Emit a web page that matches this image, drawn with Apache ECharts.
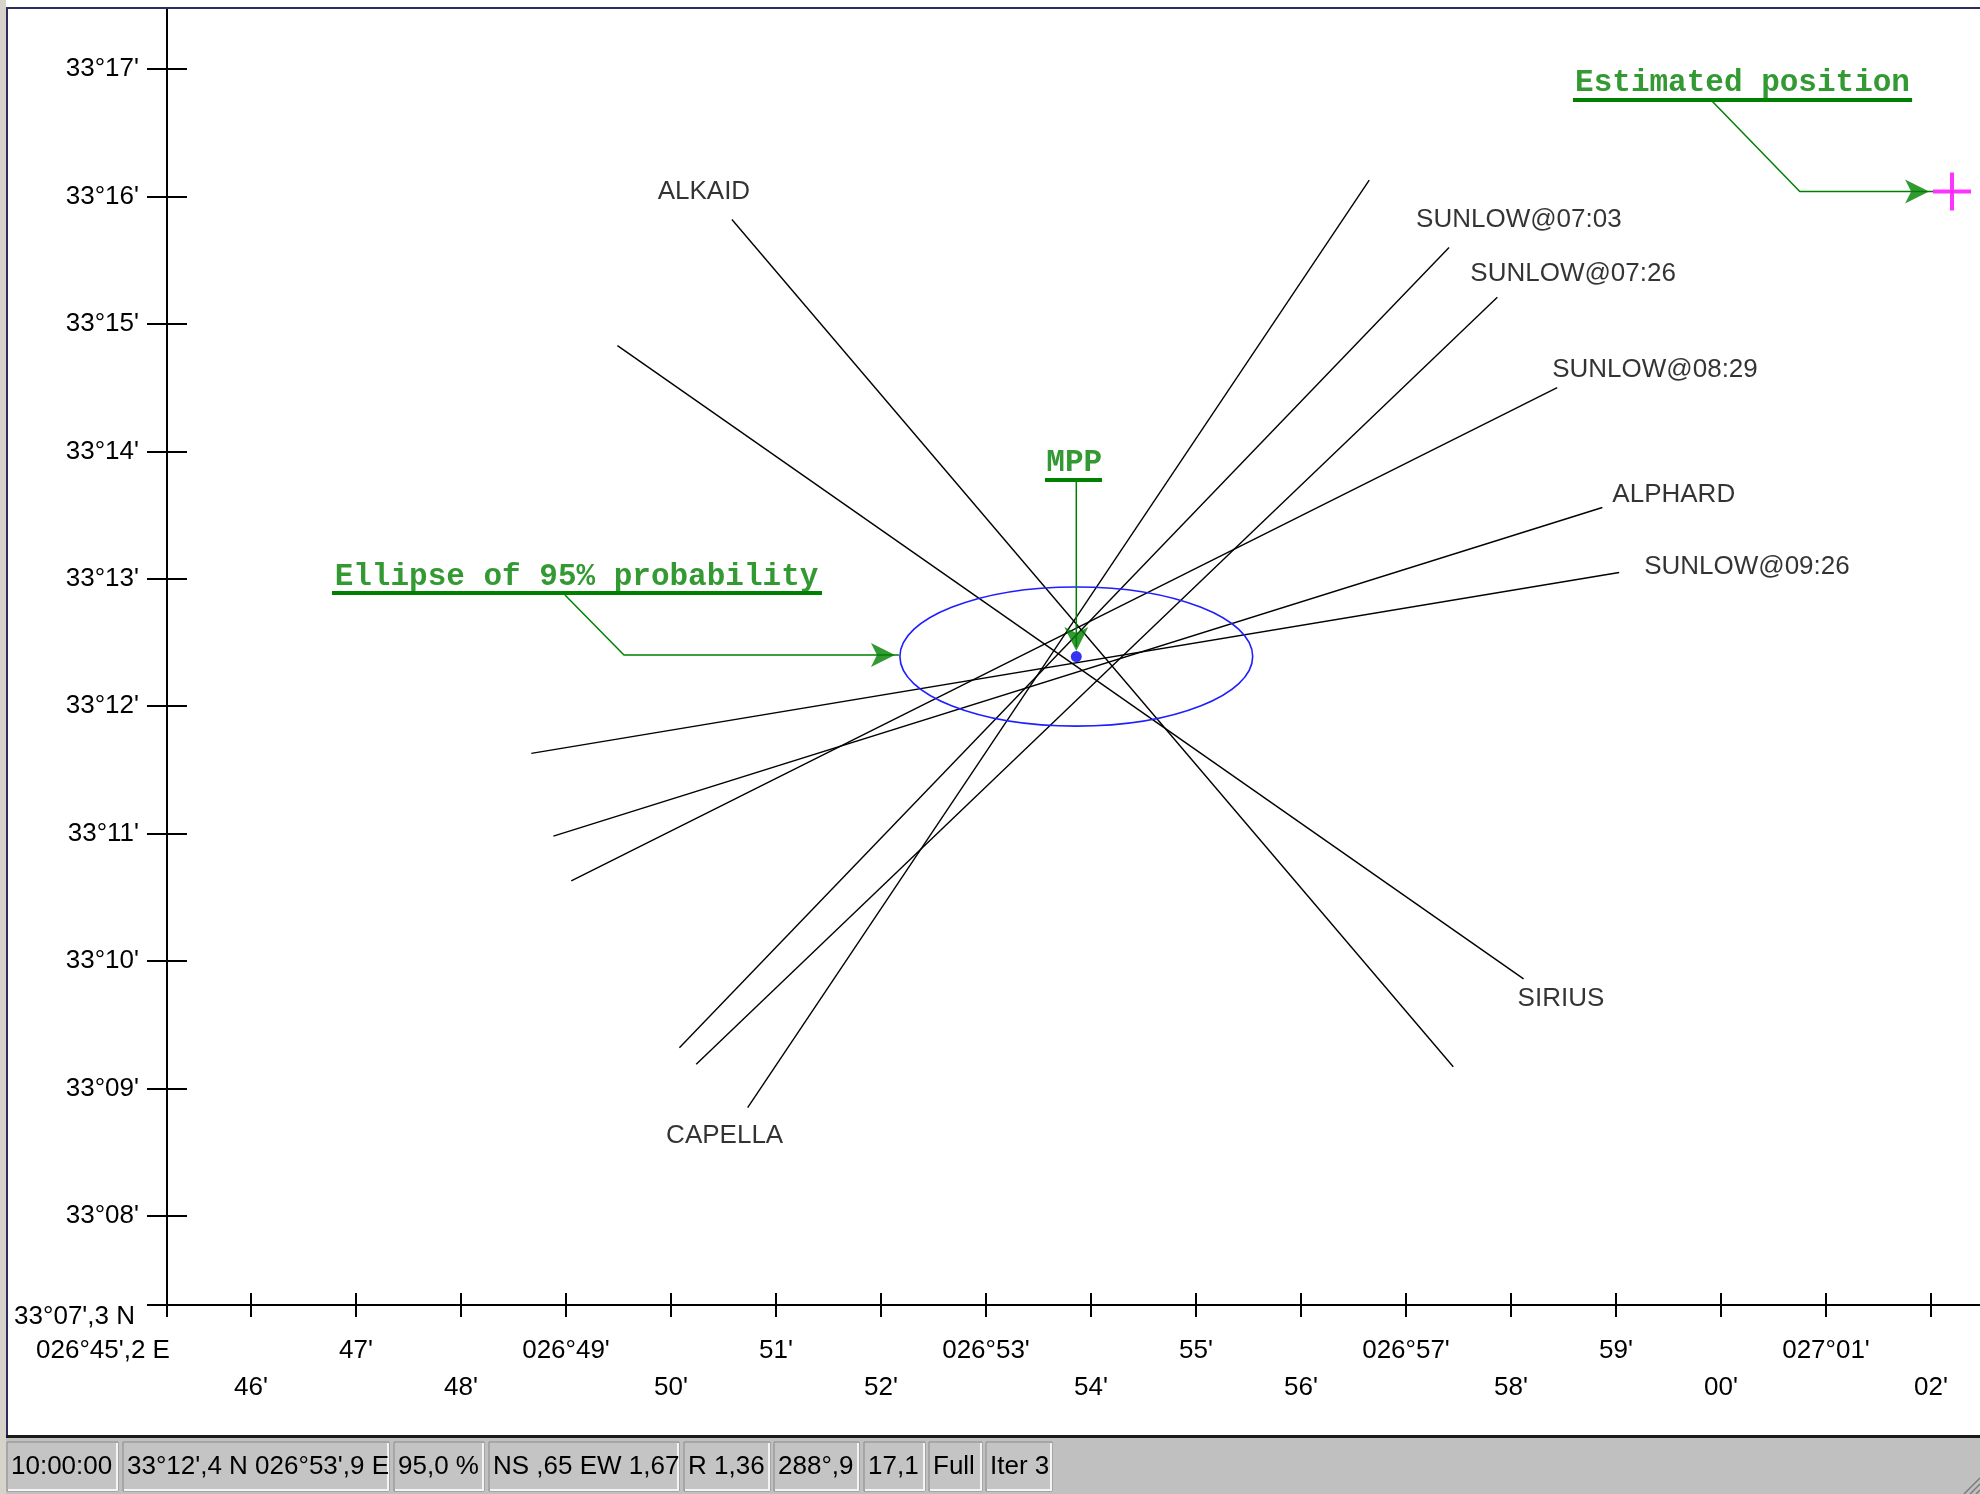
<!DOCTYPE html>
<html>
<head>
<meta charset="utf-8">
<script src="https://cdn.jsdelivr.net/npm/echarts@6/dist/echarts.min.js"></script>
<style>
html,body{margin:0;padding:0;background:#fff;}
#chart{width:1980px;height:1494px;}
</style>
</head>
<body>
<div id="chart"></div>
<script>
// ---------- Axis ticks (minutes of arc) ----------
const latTickValues = [7.3, 8, 9, 10, 11, 12, 13, 14, 15, 16, 17];
const latTickLabels = ["33°07',3 N", "33°08'", "33°09'", "33°10'", "33°11'", "33°12'", "33°13'", "33°14'", "33°15'", "33°16'", "33°17'"];
const lonTickValues = [45.2, 46, 47, 48, 49, 50, 51, 52, 53, 54, 55, 56, 57, 58, 59, 60, 61, 62];
const lonTickLabels = ["026°45',2 E", "46'", "47'", "48'", "026°49'", "50'", "51'", "52'", "026°53'", "54'", "55'", "56'", "026°57'", "58'", "59'", "00'", "027°01'", "02'"];

// ---------- Lines of position (lon/lat in minutes past 026°E / 33°N) ----------
const lopNames = ["ALKAID", "SIRIUS", "CAPELLA", "SUNLOW@07:03", "SUNLOW@07:26", "SUNLOW@08:29", "ALPHARD", "SUNLOW@09:26"];
const lopLabelEndLon = [50.58, 58.12, 50.73, 57.41, 57.87, 58.44, 58.87, 59.03];
const lopLabelEndLat = [15.82, 9.86, 8.85, 15.60, 15.21, 14.50, 13.56, 13.05];
const lopOtherEndLon = [57.45, 49.49, 56.65, 50.08, 50.24, 49.05, 48.88, 48.67];
const lopOtherEndLat = [9.17, 14.83, 16.13, 9.32, 9.19, 10.63, 10.98, 11.63];

// ---------- Fix ----------
const mppLon = 53.86;
const mppLat = 12.39;
const ellipseSemiLon = 1.68;
const ellipseSemiLat = 0.546;
const estimatedLon = 62.2;
const estimatedLat = 16.04;

// ---------- Annotations ----------
const annotationTexts = ["Estimated position", "MPP", "Ellipse of 95% probability"];
const annotationLon = [60.205, 53.84, 49.10];
const annotationLat = [16.89, 13.909, 13.014];
const underlineFromLon = [58.59, 53.562, 46.771];
const underlineToLon = [61.82, 54.105, 51.438];
const underlineLat = [16.758, 13.775, 12.889];
const leaderLon = [[59.914, 60.75, 62.02], [53.86, 53.86], [48.99, 49.552, 52.171]];
const leaderLat = [[16.75, 16.04, 16.04], [13.76, 12.465], [12.873, 12.402, 12.402]];

// ---------- Status bar ----------
const statusTexts = ["10:00:00", "33°12',4 N 026°53',9 E", "95,0 %", "NS ,65 EW 1,67", "R 1,36", "288°,9", "17,1", "Full", "Iter 3"];

// ---------- styling / layout ----------
const SANS = "'Liberation Sans', Arial, Helvetica, sans-serif";
const MONO = "'Liberation Mono', 'Courier New', monospace";
const GREEN = '#008000';
const lopLabelPlacement = [
  {align: 'center', dx: -28, dy: -28},
  {align: 'left', dx: -6, dy: 20},
  {align: 'center', dx: -23, dy: 28},
  {align: 'left', dx: -33, dy: -28},
  {align: 'left', dx: -27, dy: -23},
  {align: 'left', dx: -5, dy: -18},
  {align: 'left', dx: 10, dy: -13},
  {align: 'left', dx: 25, dy: -6}
];
// arrowhead at the last leader point: rotation (deg) and offset so the tip sits on the point
const arrowStyle = [
  {rotate: -90, offset: [-4, 0]},
  {rotate: 180, offset: [0, 4]},
  {rotate: -90, offset: [-4, 0]}
];
const statusPanels = [[7,118],[123,389],[394,484],[489,679],[684,770],[774,859],[864,925],[929,982],[986,1052]];

const X_MIN = 45.2, Y_MIN = 7.3;
const GRID = {left: 167, right: 0, top: 9, bottom: 189};
const X_MAX = X_MIN + (1980 - GRID.left - GRID.right) / 105;
const Y_MAX = Y_MIN + (1494 - GRID.top - GRID.bottom) / 127.4;

const chart = echarts.init(document.getElementById('chart'), null, {renderer: 'canvas'});

const series = [];
lopNames.forEach((n, i) => {
  series.push({
    type: 'line', name: n, silent: true, symbol: 'none', showSymbol: false,
    lineStyle: {color: '#000', width: 1.4}, z: 2,
    data: [[lopOtherEndLon[i], lopOtherEndLat[i]], [lopLabelEndLon[i], lopLabelEndLat[i]]]
  });
});
series.push({
  type: 'scatter', silent: true, symbolSize: 1, itemStyle: {color: 'rgba(0,0,0,0)'}, z: 3,
  data: lopNames.map((n, i) => ({
    name: n, value: [lopLabelEndLon[i], lopLabelEndLat[i]],
    label: {show: true, position: 'inside', formatter: n, align: lopLabelPlacement[i].align,
      verticalAlign: 'middle', offset: [lopLabelPlacement[i].dx, lopLabelPlacement[i].dy],
      color: '#000', fontFamily: SANS, fontSize: 26}
  }))
});
// ellipse
series.push({
  type: 'custom', silent: true, z: 4,
  data: [[mppLon, mppLat, ellipseSemiLon, ellipseSemiLat]],
  renderItem: function (params, api) {
    const c = api.coord([api.value(0), api.value(1)]);
    const s = api.size([api.value(2), api.value(3)]);
    return {type: 'ellipse', shape: {cx: c[0], cy: c[1], rx: s[0], ry: s[1]},
      style: {fill: 'none', stroke: '#1e1eff', lineWidth: 1.6}};
  }
});
// underlines
underlineLat.forEach((lat, i) => {
  series.push({type: 'line', silent: true, symbol: 'none', z: 5,
    lineStyle: {color: GREEN, width: 4},
    data: [[underlineFromLon[i], lat], [underlineToLon[i], lat]]});
});
// leaders
leaderLon.forEach((lons, i) => {
  const pts = lons.map((lo, k) => [lo, leaderLat[i][k]]);
  series.push({type: 'line', silent: true, symbol: 'none', z: 5,
    lineStyle: {color: GREEN, width: 1.5}, data: pts});
});
// arrowheads
series.push({type: 'scatter', silent: true, z: 6, symbol: 'arrow', symbolSize: [18, 24],
  itemStyle: {color: GREEN},
  data: leaderLon.map((lons, i) => ({
    value: [lons[lons.length - 1], leaderLat[i][lons.length - 1]],
    symbolRotate: arrowStyle[i].rotate, symbolOffset: arrowStyle[i].offset
  }))
});
// MPP dot
series.push({type: 'scatter', silent: true, symbol: 'circle', symbolSize: 11, z: 6,
  itemStyle: {color: '#0000ee'}, data: [[mppLon, mppLat]]});
// estimated position cross
series.push({type: 'scatter', silent: true, z: 6,
  symbol: 'path://M17,0H21V17H38V21H21V38H17V21H0V17H17Z', symbolSize: 38,
  itemStyle: {color: '#ff00ff'}, data: [[estimatedLon, estimatedLat]]});
// annotation texts
series.push({type: 'scatter', silent: true, symbolSize: 1, itemStyle: {color: 'rgba(0,0,0,0)'}, z: 6,
  data: annotationTexts.map((t, i) => ({value: [annotationLon[i], annotationLat[i]],
    label: {show: true, position: 'inside', formatter: t, align: 'center', verticalAlign: 'middle',
      color: GREEN, fontFamily: MONO, fontWeight: 'bold', fontSize: 31}}))
});

function lonLabel(v) {
  const i = lonTickValues.indexOf(v);
  if (i <= 0) return '';
  return (i % 2 === 1 ? '\n' : '') + lonTickLabels[i];
}
function lonOriginLabel(v) {
  return '{o|' + lonTickLabels[0] + '}';
}
function latLabel(v) {
  const i = latTickValues.indexOf(v);
  if (i < 0) return '';
  if (i === 0) return '{o|' + latTickLabels[i] + '}';
  return latTickLabels[i];
}

const axisLineStyle = {color: '#000', width: 2};
const graphic = [];
// window frame
graphic.push({type: 'rect', silent: true, z: 100, shape: {x: 0, y: 0, width: 6, height: 1494}, style: {fill: '#d6d3ca'}});
graphic.push({type: 'rect', silent: true, z: 100, shape: {x: 6, y: 7, width: 1974, height: 2}, style: {fill: '#2c2c5e'}});
graphic.push({type: 'rect', silent: true, z: 100, shape: {x: 6, y: 7, width: 2, height: 1430}, style: {fill: '#2c2c5e'}});
// status bar
graphic.push({type: 'rect', silent: true, z: 100, shape: {x: 6, y: 1436, width: 1974, height: 58}, style: {fill: '#c0c0c0'}});
graphic.push({type: 'rect', silent: true, z: 101, shape: {x: 6, y: 1435, width: 1974, height: 3}, style: {fill: '#1a1a1a'}});
statusPanels.forEach((p, i) => {
  graphic.push({type: 'rect', silent: true, z: 101, shape: {x: p[0], y: 1442, width: p[1] - p[0], height: 49},
    style: {fill: '#c4c4c4', stroke: '#8a8a8a', lineWidth: 1}});
  graphic.push({type: 'polyline', silent: true, z: 102, shape: {points: [[p[0] + 1, 1490], [p[1] - 1, 1490], [p[1] - 1, 1443]]},
    style: {stroke: '#f4f4f4', lineWidth: 2, fill: null}});
  graphic.push({type: 'text', silent: true, z: 103, x: p[0] + 4, y: 1467,
    style: {text: statusTexts[i], fill: '#000', font: '26px ' + SANS, verticalAlign: 'middle', align: 'left'}});
});
// resize grip
[0, 1, 2].forEach(k => {
  graphic.push({type: 'line', silent: true, z: 102, shape: {x1: 1976 - k * 6, y1: 1494, x2: 1980, y2: 1490 - k * 6},
    style: {stroke: '#7a7a7a', lineWidth: 1.5}});
});

const option = {
  backgroundColor: '#ffffff',
  animation: false,
  grid: GRID,
  xAxis: [
    {type: 'value', position: 'bottom', min: X_MIN, max: X_MAX,
      axisLine: {show: true, onZero: false, lineStyle: axisLineStyle},
      axisTick: {show: true, length: 12, customValues: lonTickValues, lineStyle: {color: '#000', width: 2}},
      axisLabel: {show: true, customValues: lonTickValues.slice(1), formatter: lonLabel, margin: 27,
        showMinLabel: true, showMaxLabel: true,
        color: '#000', fontFamily: SANS, fontSize: 26, lineHeight: 37, hideOverlap: false},
      splitLine: {show: false}},
    {type: 'value', position: 'bottom', min: X_MIN, max: X_MAX,
      axisLine: {show: false, onZero: false},
      axisTick: {show: true, inside: true, length: 12, customValues: lonTickValues, lineStyle: {color: '#000', width: 2}},
      axisLabel: {show: false}, splitLine: {show: false}},
    {type: 'value', position: 'bottom', min: X_MIN, max: X_MAX,
      axisLine: {show: false, onZero: false}, axisTick: {show: false},
      axisLabel: {show: true, customValues: [lonTickValues[0]], formatter: lonOriginLabel, margin: 27,
        showMinLabel: true, hideOverlap: false, color: '#000', fontFamily: SANS, fontSize: 26, lineHeight: 37,
        rich: {o: {fontFamily: SANS, fontSize: 26, color: '#000', lineHeight: 37, padding: [0, 128, 0, 0]}}},
      splitLine: {show: false}}
  ],
  yAxis: [
    {type: 'value', position: 'left', min: Y_MIN, max: Y_MAX,
      axisLine: {show: true, onZero: false, lineStyle: axisLineStyle},
      axisTick: {show: true, length: 20, customValues: latTickValues, lineStyle: {color: '#000', width: 2}},
      axisLabel: {show: true, customValues: latTickValues, formatter: latLabel, margin: 28,
        showMinLabel: true, showMaxLabel: true,
        color: '#000', fontFamily: SANS, fontSize: 26, hideOverlap: false,
        rich: {o: {fontFamily: SANS, fontSize: 26, color: '#000', padding: [24, 4, 0, 0]}}},
      splitLine: {show: false}},
    {type: 'value', position: 'left', min: Y_MIN, max: Y_MAX,
      axisLine: {show: false, onZero: false},
      axisTick: {show: true, inside: true, length: 20, customValues: latTickValues, lineStyle: {color: '#000', width: 2}},
      axisLabel: {show: false}, splitLine: {show: false}}
  ],
  series: series,
  graphic: graphic
};
chart.setOption(option);
</script>
</body>
</html>
